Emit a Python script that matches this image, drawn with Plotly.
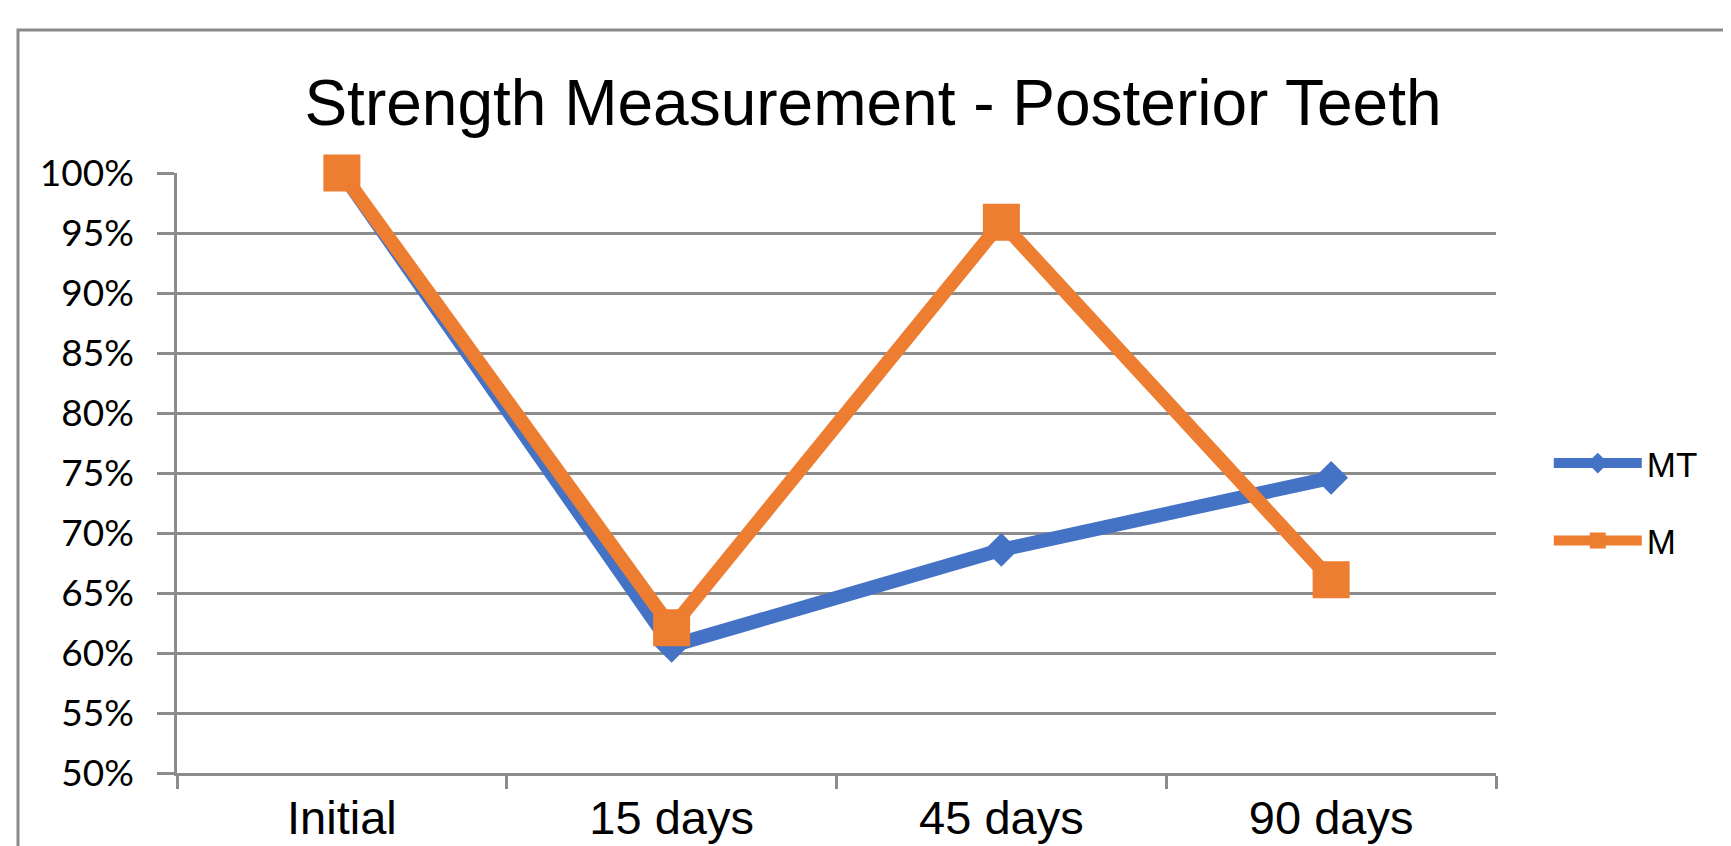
import plotly.graph_objects as go

categories = ["Initial", "15 days", "45 days", "90 days"]
mt_values = [100.0, 60.6, 68.6, 74.6]
m_values = [100.0, 62.1, 95.9, 66.1]
y_ticks = [50, 55, 60, 65, 70, 75, 80, 85, 90, 95, 100]
y_tick_labels = [f"{v}%" for v in y_ticks]

W, H = 1731, 846
# plot-area edges in figure pixels (page adds an 8px body margin)
L, R, T, B = 169, 1488, 165, 765

GRID = "#8c8c8c"
BLUE = "#4472C4"
ORANGE = "#ED7D31"

fig = go.Figure()
fig.add_trace(go.Scatter(
    x=categories, y=mt_values, name="MT", mode="lines+markers",
    line=dict(color=BLUE, width=14),
    marker=dict(symbol="diamond", size=26, color=BLUE),
    cliponaxis=False, legendgroup="a",
))
fig.add_trace(go.Scatter(
    x=categories, y=m_values, name="M", mode="lines+markers",
    line=dict(color=ORANGE, width=14),
    marker=dict(symbol="square", size=37, color=ORANGE),
    cliponaxis=False, legendgroup="b",
))

pw = R - L
ph = B - T
fx0 = (10 - L) / pw
fy1 = 1 + (T - 22) / ph

fig.update_layout(
    width=W, height=H,
    margin=dict(l=L, r=W - R, t=T, b=H - B, pad=0, autoexpand=False),
    paper_bgcolor="white", plot_bgcolor="white",
    title=dict(text="Strength Measurement - Posterior Teeth",
               font=dict(family="Liberation Sans, Arial", size=64, color="black"),
               x=865 / W, xanchor="center", xref="container",
               y=1 - 95 / H, yanchor="middle", yref="container"),
    showlegend=True,
    legend=dict(x=1.04, xanchor="left", y=0.452, yanchor="middle",
                font=dict(family="Liberation Sans, Arial", size=35, color="black"),
                itemwidth=88, traceorder="grouped", tracegroupgap=29,
                bgcolor="rgba(0,0,0,0)"),
    xaxis=dict(type="category", range=[-0.5, 3.5], showgrid=False, automargin=False,
               showline=True, linecolor=GRID, linewidth=2.5,
               ticks="outside", tickson="boundaries", ticklen=13, tickwidth=2.5,
               tickcolor=GRID, ticklabelstandoff=2,
               tickfont=dict(family="Liberation Sans, Arial", size=47, color="black")),
    yaxis=dict(range=[50, 100], tickvals=y_ticks, ticktext=y_tick_labels, automargin=False,
               showgrid=True, gridcolor=GRID, gridwidth=2.5,
               showline=True, linecolor=GRID, linewidth=2.5,
               ticks="outside", ticklen=17, tickwidth=2.5, tickcolor=GRID,
               ticklabelstandoff=16, zeroline=False,
               tickfont=dict(family="Lato", size=37, color="black")),
    shapes=[dict(type="rect", xref="paper", yref="paper",
                 x0=fx0, x1=3, y0=-3, y1=fy1,
                 line=dict(color="#8a8a8a", width=3), fillcolor="rgba(0,0,0,0)",
                 layer="below")],
)

fig.write_html("out.html")
